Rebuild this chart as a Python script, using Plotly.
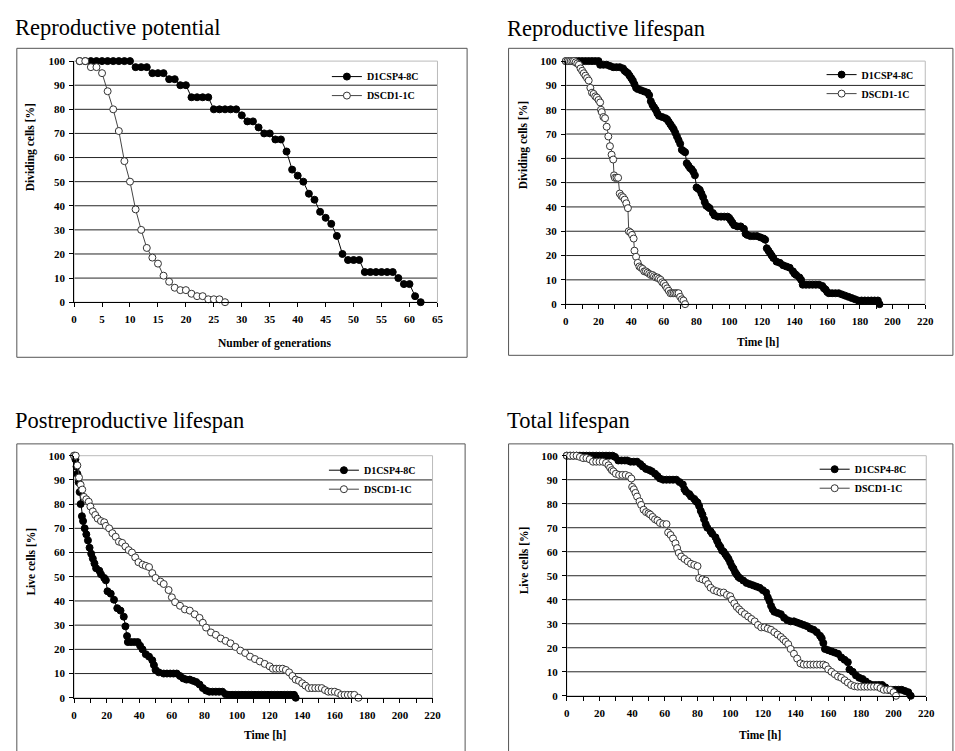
import plotly.graph_objects as go

W, H = 955, 751

# ---------------- DATA ----------------
series_names = ["D1CSP4-8C", "DSCD1-1C"]

# Panel 1: Reproductive potential (number of generations)
rp_black_gen = [1, 2, 3, 4, 5, 6, 7, 8, 9, 10, 11, 12, 13, 14, 15, 16, 17, 18, 19, 20,
                21, 22, 23, 24, 25, 26, 27, 28, 29, 30, 31, 32, 33, 34, 35, 36, 37, 38, 39, 40,
                41, 42, 43, 44, 45, 46, 47, 48, 49, 50, 51, 52, 53, 54, 55, 56, 57, 58, 59, 60,
                61, 62]
rp_black_val = [100, 100, 100, 100, 100, 100, 100, 100, 100, 100, 97.5, 97.5, 97.5, 95, 95, 95, 92.5, 92.5, 90, 90,
                85, 85, 85, 85, 80, 80, 80, 80, 80, 77.5, 75, 75, 72.5, 70, 70, 67.5, 67.5, 62.5, 55, 52.5,
                50, 45, 42.5, 37.5, 35, 32.5, 27.5, 20, 17.5, 17.5, 17.5, 12.5, 12.5, 12.5, 12.5, 12.5, 12.5, 10, 7.5, 7.5,
                2.5, 0]
rp_white_gen = [1, 2, 3, 4, 5, 6, 7, 8, 9, 10, 11, 12, 13, 14, 15, 16, 17, 18, 19, 20,
                21, 22, 23, 24, 25, 26, 27]
rp_white_val = [100, 100, 97.5, 97.5, 95, 87.5, 80, 71, 58.5, 50, 38.5, 30, 22.5, 18.5, 16, 11, 8.5, 6, 5, 5,
                3.5, 2.5, 2.5, 1.2, 1.2, 1.2, 0]

# Panel 2: Reproductive lifespan (time, h)
rl_black_t = [0, 2, 4, 6, 8, 10, 12, 14, 16, 18, 20, 21, 23, 25, 27, 29, 31, 33, 35, 36, 37, 38, 39, 40, 41,
              42, 43, 44, 46, 48, 50, 51, 52, 53, 54, 55, 56, 57, 59, 61, 62, 63, 64, 65, 66, 67, 68, 69, 70,
              71, 72, 73, 74, 75, 76, 77, 78, 79, 80, 81, 82, 83, 84, 85, 86, 87, 88, 90, 91, 93, 95, 97, 99,
              100, 101, 102, 103, 105, 107, 109, 110, 111, 113, 115, 117, 119, 121, 122, 123, 124, 125, 126,
              127, 129, 131, 133, 135, 137, 139, 140, 141, 143, 144, 145, 147, 149, 151, 153, 155, 157, 158,
              159, 160, 161, 163, 165, 167, 169, 171, 173, 175, 177, 179, 181, 183, 185, 187, 189, 191, 192]
rl_black_v = [100, 100, 100, 100, 100, 100, 100, 100, 100, 100, 100, 98.5, 98.5, 98.5, 98, 97.5, 97.5, 97.5, 97, 96,
              95.5, 95, 94, 93, 92, 90.5, 89, 88.5, 88, 87.5, 87, 86, 83.5, 82, 81, 80, 78.5, 77.5, 77, 76.5, 76,
              75, 74, 73, 72, 70.5, 69, 67.5, 66, 63.5, 63, 62.5, 58, 57, 56, 55.5, 54.5, 53, 48, 47.5, 47, 45.5,
              44, 42, 40.5, 40, 39.5, 37.5, 36.5, 36, 36, 36, 36, 35.5, 34.5, 33.5, 32.5, 32, 32, 31, 29, 28.5,
              28, 28, 28, 27.5, 27, 26.5, 23, 22, 21, 20, 19, 17.5, 17, 16, 15.5, 15, 13.5, 12.5, 12, 11, 10, 8,
              8, 8, 8, 8, 8, 7.5, 6.5, 6, 5, 4.5, 4.5, 4.5, 4.5, 4, 3.5, 3, 2.5, 2, 1.5, 1.5, 1.5, 1.5, 1.5, 1.5,
              1.5, 0]
rl_white_t = [0, 1, 2, 3, 4, 5, 6, 7, 8, 9, 10, 11, 12, 13, 14, 15, 16, 17, 18, 19, 20, 21, 21.5, 22, 23, 24,
              25, 26, 27, 28, 29, 29.5, 30, 31, 32, 33, 34, 35, 36, 37, 38, 38.5, 39.5, 40.5, 41.5, 42, 43, 44,
              45, 46, 47, 48, 49, 50, 51, 52, 53, 54, 55, 56, 57, 58, 59, 60, 61, 62, 63, 64, 65, 66, 67, 68,
              69, 70, 71, 72, 73]
rl_white_v = [100, 100, 100, 100, 100, 100, 99.5, 99, 98.5, 97, 96, 95, 94, 93, 92, 89, 87, 86.5, 85.5, 85, 84,
              83, 80, 79, 77, 76.5, 73, 69, 65, 61.5, 59.5, 53, 52, 52, 52, 45.5, 44.5, 44, 43, 41.5, 39.5, 30,
              29.5, 28.5, 27, 22, 19.5, 17, 15.5, 15, 14.5, 13.5, 13.5, 13, 12.5, 12, 12, 11.5, 11, 11, 10.5, 10,
              9, 8.5, 7.5, 6.5, 5.5, 4.5, 4.5, 4.5, 4.5, 4.5, 4.5, 3, 2, 1.5, 0]

# Panel 3: Postreproductive lifespan (time, h)
pl_black_t = [0, 0.8, 1.5, 2, 2.8, 3.4, 4, 4.8, 5.5, 6.5, 7.5, 8.5, 9.5, 10.5, 11.5, 12.5, 13.5, 15.5, 16.5,
              18.5, 19.5, 20.5, 22.5, 24.5, 26.5, 28.5, 30.5, 31.5, 32.5, 33, 35, 37, 39, 40.5, 42, 44, 46, 48,
              49, 50, 52, 55, 57, 59, 61, 63, 65, 67, 69, 71, 73, 75, 77, 79, 81, 83, 85, 87, 89, 91, 93, 95, 97,
              99, 101, 103, 105, 107, 109, 111, 113, 115, 117, 119, 121, 123, 125, 127, 129, 131, 133, 135, 136]
pl_black_v = [100, 98.5, 95.5, 92.5, 89, 85, 80, 75, 73, 70, 67.5, 65, 62, 59.5, 57.5, 55.5, 53.5, 52.5, 51,
              49.5, 48.5, 44, 43, 40.5, 37, 36, 33.5, 29.5, 25.5, 23, 23, 23, 23, 21.5, 20, 18, 17, 15.5, 13.5,
              11.5, 10.5, 10, 10, 10, 10, 10, 9, 8, 7.5, 7.5, 7, 6.5, 5.5, 4, 3, 2.5, 2.5, 2.5, 2.5, 2.5, 1.5,
              1.2, 1.2, 1.2, 1.2, 1.2, 1.2, 1.2, 1.2, 1.2, 1.2, 1.2, 1.2, 1.2, 1.2, 1.2, 1.2, 1.2, 1.2, 1.2, 1.2,
              1.2, 0]
pl_white_t = [0, 1, 2, 3, 4, 5, 6, 7.5, 9, 10, 11.5, 13, 14.5, 16.5, 18.5, 19.5, 21.5, 23.5, 25.5, 27.5, 29.5,
              31.5, 33.5, 35.5, 37.5, 39.5, 42, 44, 46, 48, 50, 53, 55, 58, 60, 62, 65, 68, 71, 74, 77, 79, 81,
              84, 87, 90, 93, 96, 99, 102, 105, 108, 111, 114, 117, 120, 122, 124, 126, 128, 130, 132, 134, 136,
              138, 140, 142, 144, 146, 148, 150, 152, 154, 156, 158, 160, 162, 164, 166, 168, 170, 172, 174.5]
pl_white_v = [100, 100, 96, 91, 88, 86, 83, 82, 81, 79, 77, 75.5, 74, 73, 72.5, 71, 70, 68, 66.5, 64.5, 64,
              62.5, 61, 60, 58, 56, 55, 54.5, 54, 51.5, 49.5, 48, 47, 44.5, 41.5, 39.5, 38, 36.5, 36, 34.5, 33,
              31, 29, 27, 26, 24.5, 23.5, 22.5, 21, 19.5, 18.5, 17, 16, 15, 14, 13, 12, 12, 12, 12, 11.5, 10.5,
              9, 7.5, 7, 6, 5, 4, 4, 4, 4, 4, 3.2, 2.5, 2.5, 2.5, 2, 1.2, 1.2, 1.2, 1.2, 1.2, 0]

# Panel 4: Total lifespan (time, h)
tl_black_t = [0, 2, 4, 6, 8, 10, 12, 14, 16, 18, 20, 22, 24, 26, 28, 29.5, 31.5, 33.5, 35.5, 37, 39, 41, 43,
              45, 46.5, 48.5, 50.5, 52, 54, 55.5, 57, 59, 61, 63, 65, 67, 69, 71, 72, 73, 75, 76, 78, 79, 80,
              81, 82, 83, 84, 85, 86, 88, 89, 91, 92, 93, 94, 95, 96, 97, 98, 99, 100, 101, 102, 103, 104, 105,
              106, 108, 110, 112, 114, 116, 118, 120, 122, 123, 124, 125, 126, 127, 129, 131, 133, 135, 137,
              139, 141, 143, 145, 147, 149, 151, 153, 155, 156, 157, 158, 160, 162, 164, 166, 168, 170, 172,
              173, 175, 177, 179, 181, 183, 185, 187, 189, 191, 193, 195, 197, 199, 201, 203, 205, 207, 209,
              210.5]
tl_black_v = [100, 100, 100, 100, 100, 100, 100, 100, 100, 100, 100, 100, 100, 100, 100, 99.5, 98, 98, 98, 98,
              97.5, 97.5, 97.5, 96.5, 95.5, 94.5, 94, 93.5, 92.5, 91.5, 90.5, 90, 90, 90, 90, 90, 89, 88, 86,
              85, 84, 83, 82, 81, 80.5, 79, 77, 75.5, 73.5, 71.5, 70, 68.5, 67.5, 66, 64.5, 63, 62, 60.5, 60,
              59, 58, 57, 55.5, 54, 53, 51.5, 50.5, 49.5, 49, 48, 47, 46.5, 46, 45.5, 45, 44, 43, 41, 39.5,
              37.5, 36, 35, 34.5, 34, 32.5, 31.5, 31, 31, 30.5, 30, 29.5, 29, 28, 27.5, 26.5, 25, 24, 22, 19.5,
              19, 18.5, 18, 17.5, 16, 15, 14, 11, 10, 8.5, 7.5, 7, 6, 5, 4.5, 4.5, 4.5, 4.5, 3.5, 2.5, 2.5,
              2.5, 2.5, 2.5, 2, 1.5, 0]
tl_white_t = [0, 2, 4, 6, 8, 10, 12, 14, 16, 18, 20, 22, 24, 25.5, 26.5, 27.5, 28.5, 30, 32, 34, 36, 38, 39.5,
              40, 41, 42, 43, 44.5, 45.5, 47, 48.5, 50, 51, 52.5, 54, 55.5, 57, 59, 61, 62, 63.5, 65, 66.5,
              67.5, 68.5, 70, 72, 74, 76, 78, 80, 81, 83, 85, 86.5, 88, 90, 92, 94, 96, 98, 100, 101, 102.5,
              104, 105.5, 107, 109, 111, 113, 115, 117, 119, 121, 123, 125, 127, 129, 131, 132.5, 134, 135.5,
              137, 139, 141, 143, 145, 147, 149, 151, 153, 155, 157, 158.5, 160, 162, 164, 166, 168, 170, 172,
              174, 176, 178, 180, 182, 184, 186, 188, 190, 192, 194, 196, 198, 200, 201.5]
tl_white_v = [100, 100, 100, 100, 99.5, 99, 99, 98.5, 97.5, 97.5, 97.5, 97.5, 97, 96, 95, 94, 93.5, 92.5, 92,
              92, 92, 91.5, 90.5, 87, 86, 84.5, 83, 81, 79.5, 77.5, 76.5, 76, 75.5, 74.5, 73.5, 73, 72, 71.5,
              71.5, 68, 67, 65.5, 63.5, 61.5, 59.5, 58, 57, 56, 55, 54.5, 54, 49, 48.5, 48, 46.5, 45, 44, 43.5,
              43, 43, 42, 41.5, 40, 38.5, 37, 36, 35, 34, 33, 32, 31, 29.5, 28.5, 28.5, 28, 27.5, 26.5, 25.5,
              24.5, 23.5, 22.5, 21.5, 19.5, 17.5, 15.5, 13.5, 13, 13, 13, 13, 13, 13, 13, 12.5, 11, 10, 9, 8,
              7.5, 6.5, 5.5, 4.5, 4, 3.8, 3.8, 3.8, 3.8, 3.8, 3.8, 3.8, 3.2, 2.5, 2.5, 2.5, 1.5, 0]

grid_values = [10, 20, 30, 40, 50, 60, 70, 80, 90]

panel_titles = ["Reproductive potential", "Reproductive lifespan", "Postreproductive lifespan", "Total lifespan"]
y_titles = ["Dividing cells [%]", "Dividing cells [%]", "Live cells [%]", "Live cells [%]"]
x_titles = ["Number of generations", "Time [h]", "Time [h]", "Time [h]"]

panels = [
    (rp_black_gen, rp_black_val, rp_white_gen, rp_white_val),
    (rl_black_t, rl_black_v, rl_white_t, rl_white_v),
    (pl_black_t, pl_black_v, pl_white_t, pl_white_v),
    (tl_black_t, tl_black_v, tl_white_t, tl_white_v),
]

# ---------------- LAYOUT (pixel geometry) ----------------
def px(x):
    return x / W

def py(y):
    return 1 - y / H

# plot areas (left, top, right, bottom) in pixels
areas = [(72, 56, 440, 301), (570, 56, 934, 303), (72, 457, 435, 703), (571, 457, 935, 701)]
boxes = [(14, 43, 470, 357), (512, 43, 962, 355), (14, 445, 468, 770), (512, 445, 962, 770)]
title_pos = [(10, 22), (508, 23), (10, 421), (508, 421)]
ytitle_pos = [(28, 144), (527, 141), (28, 565), (528, 563)]
xtitle_pos = [(275, 343), (765, 341), (265, 741), (767, 741)]
legend_pos = [(328, 57), (829, 55), (325, 457), (822, 456)]

serif = "Liberation Serif"
tickfont = dict(family=serif, size=11, color="black", weight="bold")

fig = go.Figure()
layout = dict(width=W, height=H, autosize=False, margin=dict(l=0, r=0, t=0, b=0),
              paper_bgcolor="white", plot_bgcolor="white", showlegend=True)
shapes = []
annotations = []

for i, (bx, bv, wx, wv) in enumerate(panels):
    n = "" if i == 0 else str(i + 1)
    xa, ya = "x" + n, "y" + n
    lg = "legend" + n
    fig.add_trace(go.Scatter(x=bx, y=bv, xaxis=xa, yaxis=ya, name=series_names[0], legend=lg,
                             mode="lines+markers", cliponaxis=False,
                             line=dict(color="black", width=1),
                             marker=dict(symbol="circle", size=7, color="black",
                                         line=dict(color="black", width=1))))
    fig.add_trace(go.Scatter(x=wx, y=wv, xaxis=xa, yaxis=ya, name=series_names[1], legend=lg,
                             mode="lines+markers", cliponaxis=False,
                             line=dict(color="#444", width=1),
                             marker=dict(symbol="circle", size=7, color="white",
                                         line=dict(color="#333", width=1))))
    l, t, r, b = areas[i]
    if i == 0:
        xrange, dt, minor = [0, 65], 5, None
    else:
        xrange, dt, minor = [0, 220], 20, dict(dtick=10, ticks="outside", ticklen=4, tickcolor="black",
                                               showgrid=False)
    xdict = dict(domain=[px(l), px(r)], anchor=ya, range=xrange, dtick=dt, tick0=0,
                 showgrid=False, zeroline=False, showline=True, linecolor="black", linewidth=1,
                 ticks="outside", ticklen=4, tickcolor="black", tickfont=tickfont,
                 ticklabelstandoff=3, fixedrange=True)
    if minor:
        xdict["minor"] = minor
    layout["xaxis" + n] = xdict
    layout["yaxis" + n] = dict(domain=[py(b), py(t)], anchor=xa, range=[0, 100], dtick=10, tick0=0,
                               showgrid=False, zeroline=False,
                               showline=True, linecolor="black", linewidth=1,
                               ticks="outside", ticklen=4, tickcolor="black", tickfont=tickfont,
                               ticklabelstandoff=2, fixedrange=True)
    # horizontal grid lines
    for gv in grid_values:
        shapes.append(dict(type="line", xref=xa + " domain", yref=ya, x0=0, x1=1, y0=gv, y1=gv,
                           line=dict(color="#262626", width=1), layer="below"))
    # light plot-area border (top and right)
    shapes.append(dict(type="rect", xref=xa + " domain", yref=ya + " domain", x0=0, x1=1, y0=0, y1=1,
                       line=dict(color="#bbbbbb", width=1), layer="below"))
    # outer chart box
    bl, bt, br, bb = boxes[i]
    shapes.append(dict(type="rect", xref="paper", yref="paper", x0=px(bl), x1=px(br), y0=py(bb), y1=py(bt),
                       line=dict(color="#555", width=1), layer="below"))
    # texts
    tx, ty = title_pos[i]
    annotations.append(dict(text=panel_titles[i], xref="paper", yref="paper", x=px(tx), y=py(ty),
                            xanchor="left", yanchor="middle", showarrow=False,
                            font=dict(family=serif, size=22.5, color="black")))
    yx, yy = ytitle_pos[i]
    annotations.append(dict(text=y_titles[i], xref="paper", yref="paper", x=px(yx), y=py(yy),
                            xanchor="center", yanchor="middle", textangle=-90, showarrow=False,
                            font=dict(family=serif, size=11.5, color="black", weight="bold")))
    xx, xy = xtitle_pos[i]
    annotations.append(dict(text=x_titles[i], xref="paper", yref="paper", x=px(xx), y=py(xy),
                            xanchor="center", yanchor="middle", showarrow=False,
                            font=dict(family=serif, size=11.5, color="black", weight="bold")))
    lx, ly = legend_pos[i]
    layout[lg] = dict(x=px(lx), y=py(ly), xref="paper", yref="paper", xanchor="left", yanchor="top",
                      bgcolor="rgba(0,0,0,0)", borderwidth=0, itemwidth=30,
                      font=dict(family=serif, size=10, color="black", weight="bold"))

layout["shapes"] = shapes
layout["annotations"] = annotations
fig.update_layout(**layout)
fig.write_html("out.html", config={"displayModeBar": False},
               post_script="document.body.style.margin='0px';")
